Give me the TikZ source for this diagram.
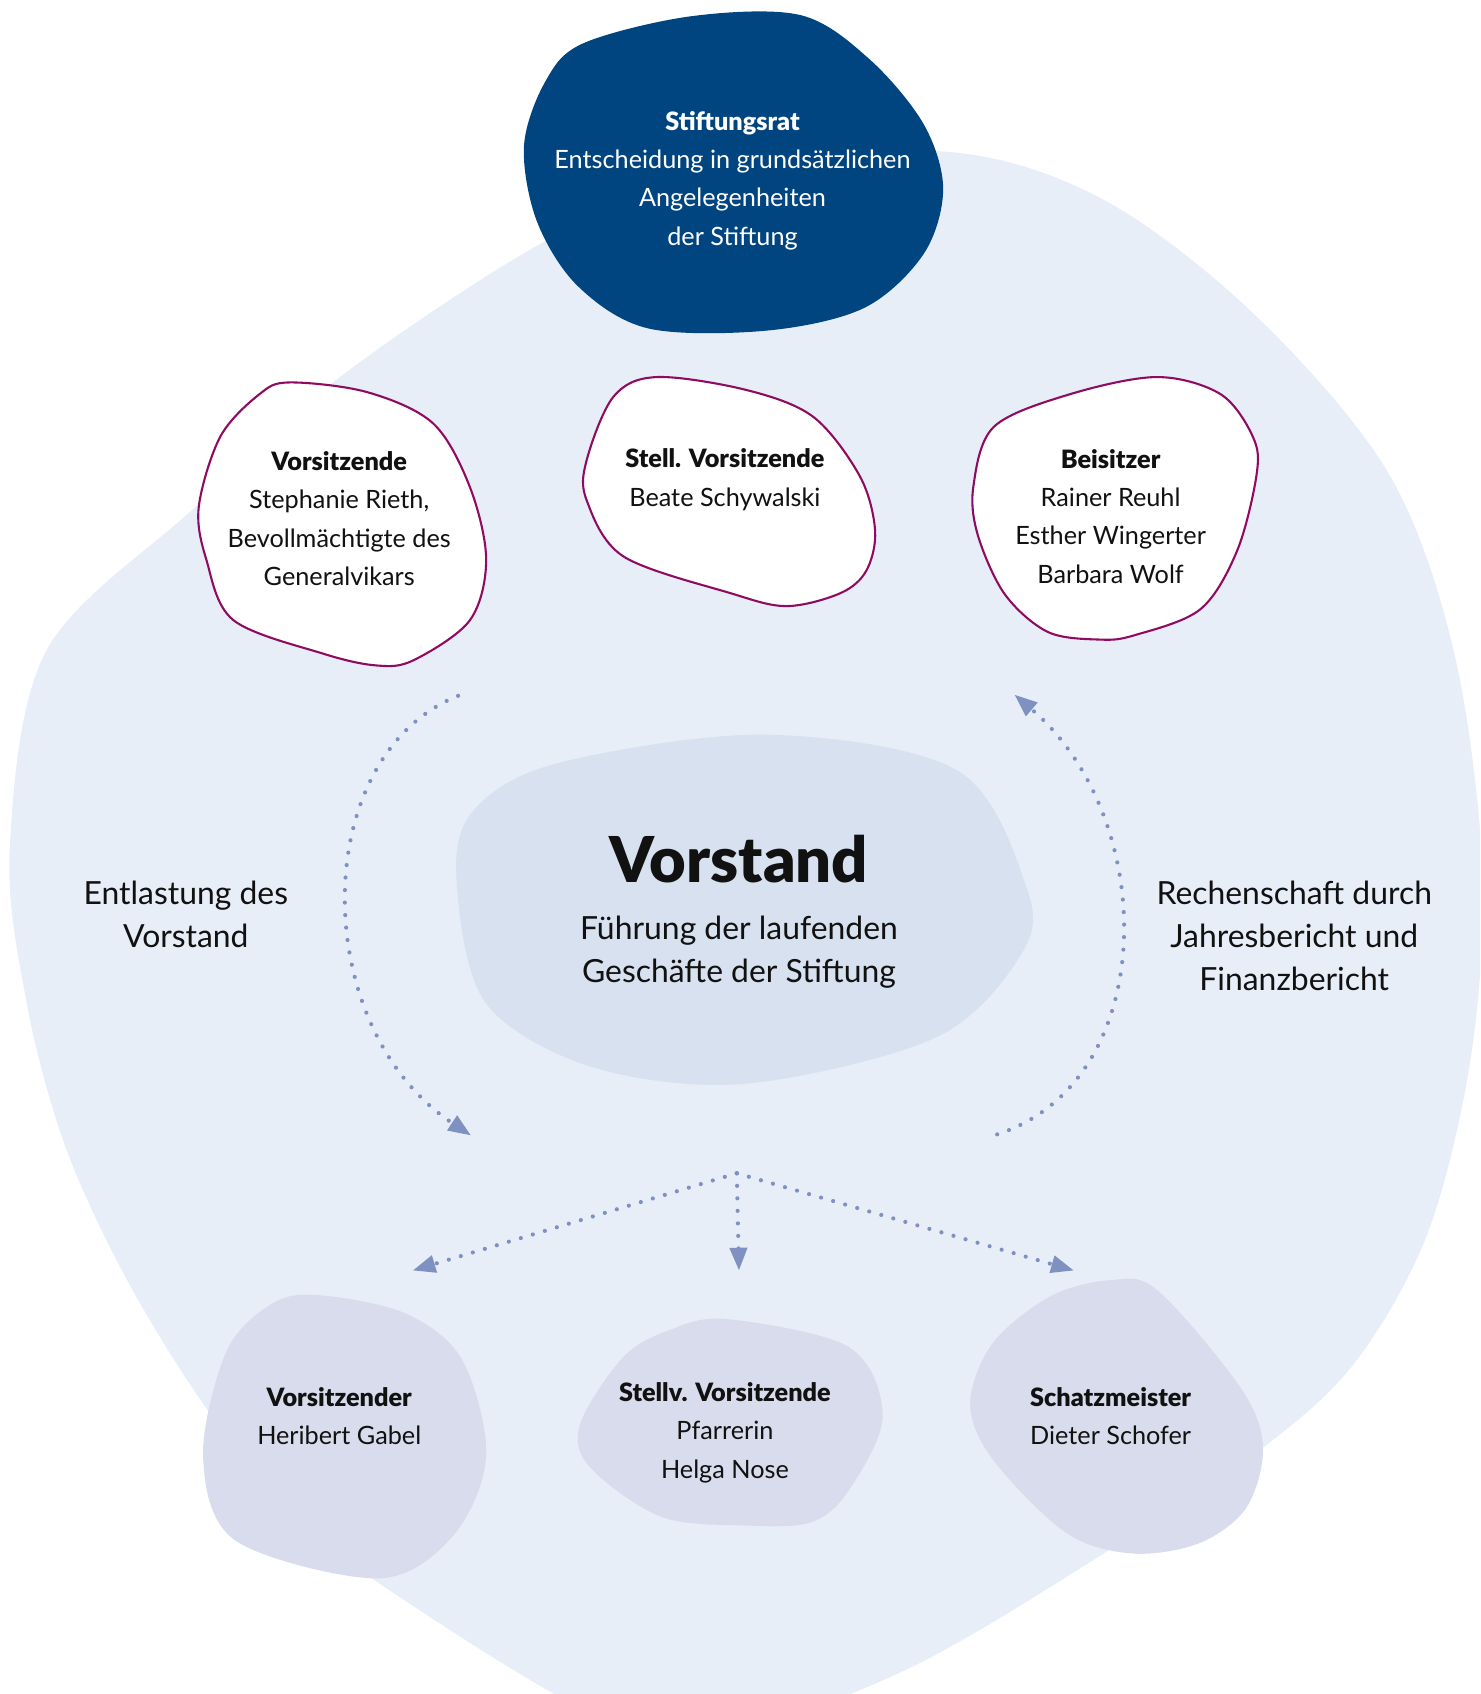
\documentclass[tikz,border=0pt]{standalone}
\usepackage{fontspec}
\setmainfont{Lato}[BoldFont={Lato Black}]
\usetikzlibrary{arrows.meta}
\definecolor{bgblue}{HTML}{E8EEF8}
\definecolor{navy}{HTML}{004580}
\definecolor{plum}{HTML}{8E0B61}
\definecolor{vorst}{HTML}{D8E1F0}
\definecolor{lav}{HTML}{D9DCEC}
\definecolor{arr}{HTML}{7F91C1}
\definecolor{ink}{HTML}{111111}
\tikzset{
  txt/.style={align=center, text=ink, font=\fontsize{13.3}{20.2}\selectfont, inner sep=0pt},
  bigtxt/.style={align=center, text=ink, font=\fontsize{16.8}{22.6}\selectfont, inner sep=0pt},
  dots/.style={draw=arr, line width=2.2pt, line cap=round, dash pattern=on 0pt off 6.6pt,
    -{Triangle[length=12pt,width=9pt,fill=arr]}},
  whiteblob/.style={fill=white, draw=plum, line width=1.1pt},
}
\begin{document}
\begin{tikzpicture}[x=0.02cm,y=-0.02cm]
\useasboundingbox (0,0) rectangle (1370,1568);
\begin{scope}
\clip (0,0) rectangle (1370,1568);
% background blob
\fill[bgblue] plot[smooth cycle, tension=0.55] coordinates {
 (43,602) (180,470) (312,351) (496,228) (650,160) (870,140) (1018,183) (1160,290)
 (1284,436) (1345,600) (1372,800) (1362,975) (1322,1140) (1255,1260) (1169,1340)
 (1031,1432) (850,1540) (700,1595) (568,1595) (350,1465) (260,1390) (185,1295)
 (115,1180) (60,1060) (25,930) (9,786)};
\end{scope}
% Stiftungsrat blob
\fill[navy] plot[smooth cycle, tension=0.55] coordinates {
 (540,40) (640,15) (741,14) (805,55) (855,115) (873,175) (855,235) (800,285)
 (710,306) (600,304) (535,265) (497,205) (485,135) (505,75)};
% white blobs
\path[whiteblob] plot[smooth cycle, tension=0.55] coordinates {
 (268,354) (340,363) (401,392) (435,451) (450,518) (435,574) (383,611) (349,616)
 (299,605) (216,574) (191,518) (184,469) (204,404) (240,365)};
\path[whiteblob] plot[smooth cycle, tension=0.55] coordinates {
 (608,349) (691,361) (753,386) (796,441) (810,491) (802,528) (778,549) (728,561)
 (676,549) (577,515) (543,463) (543,426) (568,367)};
\path[whiteblob] plot[smooth cycle, tension=0.55] coordinates {
 (1071,349) (1130,365) (1160,405) (1163,440) (1145,510) (1111,564) (1050,588)
 (1018,592) (970,585) (930,550) (905,495) (901,450) (920,395) (990,365)};
% Vorstand blob
\fill[vorst] plot[smooth cycle, tension=0.55] coordinates {
 (708,680) (886,713) (950,821) (946,882) (867,960) (691,1003) (549,988) (450,929)
 (423,821) (436,753) (514,707)};
% bottom blobs
\fill[lav] plot[smooth cycle, tension=0.55] coordinates {
 (297,1199) (376,1216) (428,1259) (450,1348) (419,1422) (350,1461) (218,1426)
 (188,1348) (210,1250) (253,1206)};
\fill[lav] plot[smooth cycle, tension=0.55] coordinates {
 (673,1221) (786,1247) (817,1311) (786,1379) (751,1409) (690,1412) (612,1404)
 (546,1358) (537,1318) (577,1256) (620,1231)};
\fill[lav] plot[smooth cycle, tension=0.55] coordinates {
 (1027,1185) (1071,1194) (1148,1284) (1169,1339) (1154,1395) (1111,1428)
 (1049,1438) (987,1419) (919,1351) (898,1299) (919,1243) (972,1200)};

% texts
\node[txt, text=white] (rat) at (678,167) {\textbf{Stiftungsrat}\\Entscheidung in grundsätzlichen\\Angelegenheiten\\der Stiftung};
\node[txt] (vors) at (314,480) {\textbf{Vorsitzende}\\Stephanie Rieth,\\Bevollmächtigte des\\Generalvikars};
\node[txt] (stell) at (671,444) {\textbf{Stell. Vorsitzende}\\Beate Schywalski};
\node[txt] (beis) at (1028,478) {\textbf{Beisitzer}\\Rainer Reuhl\\Esther Wingerter\\Barbara Wolf};
\node[inner sep=0pt, text=ink, font=\fontsize{33.3}{40}\selectfont\bfseries] (vorstand) at (684,795) {Vorstand};
\node[bigtxt] (fuehr) at (684,881) {Führung der laufenden\\Geschäfte der Stiftung};
\node[bigtxt] (entl) at (172,846) {Entlastung des\\Vorstand};
\node[bigtxt] (rech) at (1198,866) {Rechenschaft durch\\Jahresbericht und\\Finanzbericht};
\node[txt] (vorsr) at (314,1311) {\textbf{Vorsitzender}\\Heribert Gabel};
\node[txt] (stellv) at (671,1326) {\textbf{Stellv. Vorsitzende}\\Pfarrerin\\Helga Nose};
\node[txt] (schatz) at (1028,1311) {\textbf{Schatzmeister}\\Dieter Schofer};

% connector coordinates
\coordinate (lstart) at (424,644);
\coordinate (lend) at (436,1051);
\coordinate (rstart) at (923,1050);
\coordinate (rend) at (939,643);
\coordinate (fan) at (682,1086);
\coordinate (fl) at (382,1176);
\coordinate (fm) at (684,1176);
\coordinate (fr) at (994,1176);

\draw[dots] (lstart) .. controls (285,700) and (285,951) .. (lend);
\draw[dots] (rstart) .. controls (1074,1001) and (1074,758) .. (rend);
\draw[dots] (fan) -- (fl);
\draw[dots] (fan) -- (fm);
\draw[dots] (fan) -- (fr);
\end{tikzpicture}
\end{document}
